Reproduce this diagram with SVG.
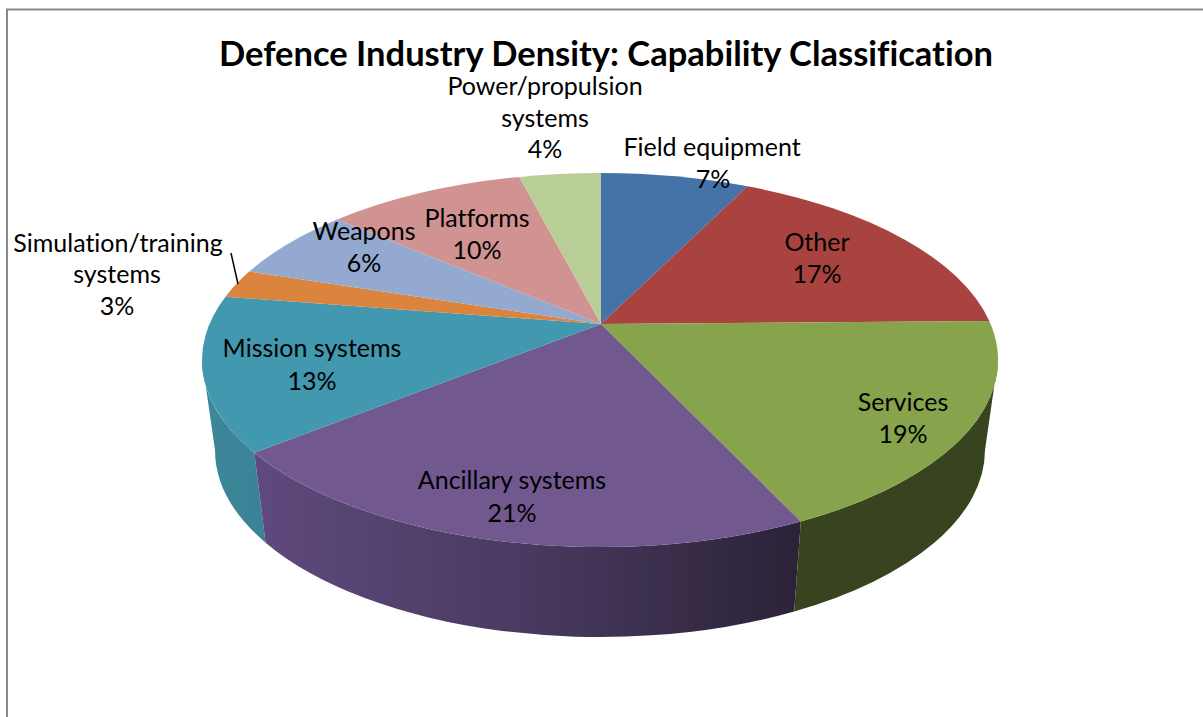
<svg xmlns="http://www.w3.org/2000/svg" width="1203" height="717" viewBox="0 0 1203 717">
<defs>
<style>
.lbl{font-family:Lato,"Liberation Sans",sans-serif;font-size:25px;fill:#000;text-anchor:middle;font-variant-ligatures:none;font-feature-settings:"liga" 0}
.ttl{font-family:Lato,"Liberation Sans",sans-serif;font-size:34px;font-weight:bold;fill:#000;text-anchor:middle;font-variant-ligatures:none;font-feature-settings:"liga" 0}
</style>
<linearGradient id="gAnc" x1="255" y1="0" x2="800" y2="0" gradientUnits="userSpaceOnUse">
<stop offset="0" stop-color="#5e4a7d"/><stop offset="0.5" stop-color="#483a60"/><stop offset="1" stop-color="#2c2238"/>
</linearGradient>
<linearGradient id="gMis" x1="202" y1="0" x2="265" y2="0" gradientUnits="userSpaceOnUse">
<stop offset="0" stop-color="#3c8799"/><stop offset="1" stop-color="#3a8396"/>
</linearGradient>
</defs>
<rect x="0" y="0" width="1203" height="717" fill="#fff"/>
<rect x="7" y="9.5" width="1300" height="1000" fill="none" stroke="#898989" stroke-width="2"/>
<text class="ttl" x="606" y="66" textLength="774" lengthAdjust="spacingAndGlyphs">Defence Industry Density: Capability Classification</text>
<g id="sides">
<path id="side-mission" d="M254.3,452.7 A398,187 0 0 1 202,360 L215,450 A385,187 0 0 0 265.6,542.7 Z" fill="url(#gMis)"/>
<path id="side-ancillary" d="M800.8,521.5 A398,187 0 0 1 254.3,452.7 L265.6,542.7 A385,187 0 0 0 794.2,611.5 Z" fill="url(#gAnc)"/>
<path id="side-services" d="M998,360 A398,187 0 0 1 800.8,521.5 L794.2,611.5 A385,187 0 0 0 985,450 Z" fill="#37441f"/>
</g>
<g id="slice-field"><path d="M601,324 L601,173 A398,187 0 0 1 747.5,186.3 Z" fill="#4572a7"/></g>
<g id="slice-other"><path d="M601,324 L747.5,186.3 A398,187 0 0 1 989.3,321.1 Z" fill="#a9433f"/></g>
<g id="slice-services"><path d="M601,324 L989.3,321.1 A398,187 0 0 1 800.8,521.5 Z" fill="#87a34c"/></g>
<g id="slice-ancillary"><path d="M601,324 L800.8,521.5 A398,187 0 0 1 254.3,452.7 Z" fill="#71588f"/></g>
<g id="slice-mission"><path d="M601,324 L254.3,452.7 A398,187 0 0 1 225.5,296.7 Z" fill="#4198af"/></g>
<g id="slice-simulation"><path d="M601,324 L225.5,296.7 A398,187 0 0 1 249.2,271.6 Z" fill="#db843d"/></g>
<g id="slice-weapons"><path d="M601,324 L249.2,271.6 A398,187 0 0 1 337.2,219.5 Z" fill="#93a9cf"/></g>
<g id="slice-platforms"><path d="M601,324 L337.2,219.5 A398,187 0 0 1 519.3,176.9 Z" fill="#d19392"/></g>
<g id="slice-power"><path d="M601,324 L519.3,176.9 A398,187 0 0 1 601,173 Z" fill="#b9cd96"/></g>
<g id="connectors">
<line x1="231" y1="253" x2="238" y2="284" stroke="#000" stroke-width="1.5"/>
</g>
<g id="labels">
<text class="lbl" x="545" y="95">Power/propulsion</text>
<text class="lbl" x="545" y="127">systems</text>
<text class="lbl" x="545" y="158">4%</text>
<text class="lbl" x="712" y="156">Field equipment</text>
<text class="lbl" x="713" y="188">7%</text>
<text class="lbl" x="817" y="251">Other</text>
<text class="lbl" x="817" y="283">17%</text>
<text class="lbl" x="903" y="411">Services</text>
<text class="lbl" x="903" y="443">19%</text>
<text class="lbl" x="512" y="489">Ancillary systems</text>
<text class="lbl" x="512" y="522">21%</text>
<text class="lbl" x="312" y="357">Mission systems</text>
<text class="lbl" x="312" y="390">13%</text>
<text class="lbl" x="118" y="252">Simulation/training</text>
<text class="lbl" x="117" y="283">systems</text>
<text class="lbl" x="117" y="315">3%</text>
<text class="lbl" x="364" y="240">Weapons</text>
<text class="lbl" x="364" y="272">6%</text>
<text class="lbl" x="477" y="227">Platforms</text>
<text class="lbl" x="477" y="259">10%</text>
</g>
</svg>
